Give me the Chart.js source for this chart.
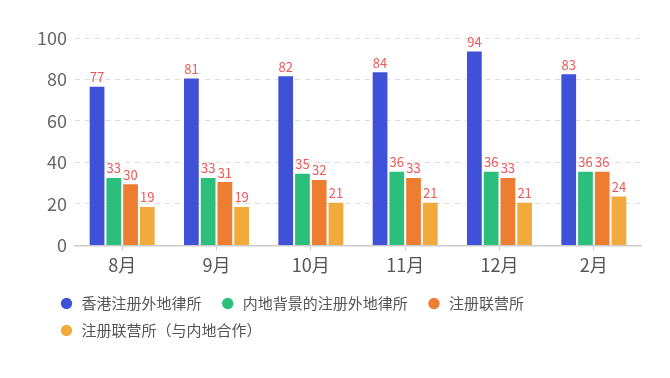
<!DOCTYPE html>
<html>
<head>
<meta charset="utf-8">
<script src="https://cdn.jsdelivr.net/npm/chart.js@4/dist/chart.umd.min.js"></script>
<style>
  html, body { margin: 0; padding: 0; background: #fff; }
  #wrap { width: 670px; height: 378px; }
</style>
</head>
<body>
<div id="wrap"><canvas id="myChart" width="670" height="378"></canvas></div>
<script>
// categories and series
var meses = ['8月', '9月', '10月', '11月', '12月', '2月'];
var hongkong = [77, 81, 82, 84, 94, 83];
var neidi = [33, 33, 35, 36, 36, 36];
var lianying = [30, 31, 32, 33, 33, 36];
var hezuo = [19, 19, 21, 21, 21, 24];
var nombres = ['香港注册外地律所', '内地背景的注册外地律所', '注册联营所', '注册联营所（与内地合作）'];
var colores = ['#3f51d7', '#2bbf7b', '#ed7d31', '#f2aa3c'];

var fuente = '"Noto Sans CJK SC", "Noto Sans", sans-serif';

// etiquetas encima de cada barra
var etiquetas = {
    id: 'etiquetas',
    afterDatasetsDraw: function (chart) {
        var ctx = chart.ctx;
        ctx.save();
        ctx.fillStyle = '#f05858';
        ctx.font = '13px ' + fuente;
        ctx.textAlign = 'center';
        ctx.textBaseline = 'bottom';
        chart.data.datasets.forEach(function (ds, i) {
            var meta = chart.getDatasetMeta(i);
            meta.data.forEach(function (bar, j) {
                ctx.fillText(ds.data[j], bar.x, bar.y - 2);
            });
        });
        ctx.restore();
    }
};

// mover la leyenda un poco a la derecha
var moverLeyenda = {
    id: 'moverLeyenda',
    afterLayout: function (chart) {
        chart.legend.left += 17;
        chart.legend.right += 17;
    }
};

var series = [hongkong, neidi, lianying, hezuo];
var datasets = series.map(function (d, i) {
    return {
        label: nombres[i],
        data: d,
        backgroundColor: colores[i],
        borderColor: 'rgba(255,255,255,0.3)',
        borderWidth: 1,
        barPercentage: 1,
        categoryPercentage: 0.71
    };
});

var ctx = document.getElementById('myChart');
const myChart = new Chart(ctx, {
    type: 'bar',
    data: { labels: meses, datasets: datasets },
    plugins: [etiquetas, moverLeyenda],
    options: {
        responsive: false,
        animation: false,
        layout: { padding: { left: 30, right: 29, top: 38, bottom: 30 } },
        plugins: {
            tooltip: { enabled: false },
            legend: {
                position: 'bottom',
                align: 'start',
                labels: {
                    usePointStyle: true,
                    pointStyle: 'circle',
                    boxWidth: 15,
                    boxHeight: 8,
                    padding: 12,
                    color: '#555',
                    font: { family: fuente, size: 15 },
                    generateLabels: function (chart) {
                        var items = Chart.defaults.plugins.legend.labels.generateLabels(chart);
                        items.forEach(function (it) {
                            it.text = it.text + '  ';
                            it.strokeStyle = it.fillStyle;
                            it.lineWidth = 0;
                        });
                        return items;
                    }
                }
            }
        },
        scales: {
            x: {
                grid: {
                    drawOnChartArea: false,
                    drawTicks: true,
                    tickLength: 5,
                    offset: false,
                    color: '#ccc'
                },
                border: { display: true, color: '#ccc', width: 1.5 },
                ticks: { color: '#555', padding: 4, font: { family: fuente, size: 18 } },
                afterFit: function (scale) { scale.height += 4; }
            },
            y: {
                min: 0,
                max: 100,
                ticks: { stepSize: 20, color: '#666', padding: 8, font: { family: fuente, size: 18 } },
                grid: { color: '#ddd', drawTicks: false, lineWidth: 1 },
                border: { display: false, dash: [5, 5] },
                afterFit: function (scale) { scale.width = 45; }
            }
        }
    }
});
</script>
</body>
</html>
